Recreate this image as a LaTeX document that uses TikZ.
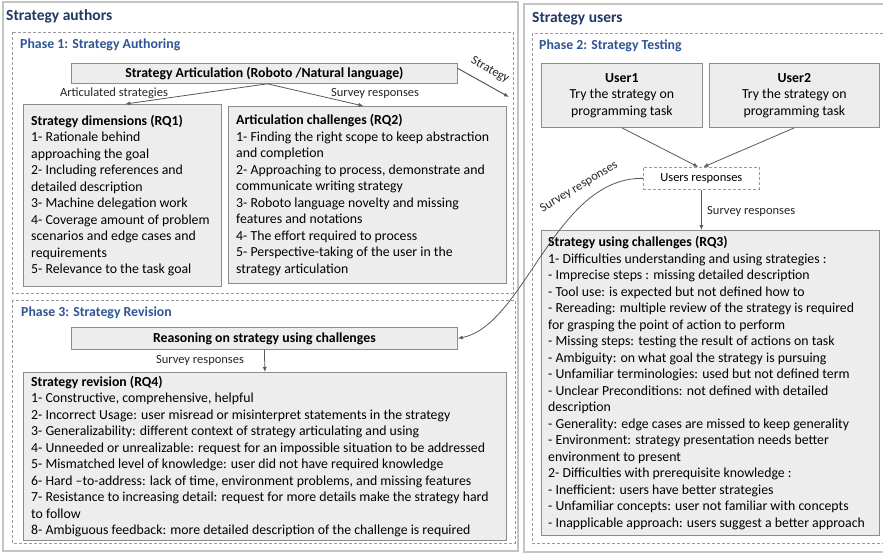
\documentclass[tikz,border=0pt]{standalone}
\usepackage{fontspec}
\setmainfont{Carlito}
\usetikzlibrary{arrows.meta,calc}
\definecolor{navy}{HTML}{1F3864}
\definecolor{phaseblue}{HTML}{2F5597}
\definecolor{boxfill}{HTML}{EDEDED}
\definecolor{boxdraw}{HTML}{8C8C8C}
\definecolor{outerdraw}{HTML}{C4C4C4}
\definecolor{dashdraw}{HTML}{9A9A9A}
\definecolor{arrowc}{HTML}{595959}
\begin{document}
\begin{tikzpicture}[x=1pt,y=-1pt,
  outerbox/.style={draw=outerdraw, line width=1.8pt},
  phasebox/.style={draw=dashdraw, dash pattern=on 3pt off 2pt, line width=0.7pt},
  gbox/.style={draw=boxdraw, fill=boxfill, line width=0.8pt, anchor=north west, inner sep=0pt,
    font=\fontsize{13.8}{16.5}\selectfont, align=center},
  btext/.style={anchor=west, inner sep=0pt, align=left, font=\fontsize{13.8}{16.5}\selectfont},
  lbl/.style={inner sep=0pt, font=\fontsize{12.5}{15}\selectfont, text=black!85},
  bigtitle/.style={anchor=west, inner sep=0pt, font=\fontsize{15.5}{18}\selectfont\bfseries, text=navy},
  phasetitle/.style={anchor=west, inner sep=0pt, font=\fontsize{13.8}{16.5}\selectfont\bfseries, text=phaseblue},
  arr/.style={draw=arrowc, line width=0.8pt, -{Latex[length=5pt,width=4pt]}}
]
\path[use as bounding box, clip] (0,0) rectangle (883,554);
\fill[white] (0,0) rectangle (883,554);

% outer frames
\draw[outerbox] (3,2) rectangle (518,551);
\draw[outerbox] (524,4) rectangle (895,552);
\draw[phasebox] (12,32) rectangle (513,293);
\draw[phasebox] (12,300) rectangle (515,543);
\draw[phasebox] (532,33) rectangle (895,543);

% titles
\node[bigtitle] (tauthors) at (6,16) {Strategy authors};
\node[bigtitle] (tusers) at (532,19) {Strategy users};
\node[phasetitle] (tp1) at (20,45) {Phase 1: Strategy Authoring};
\node[phasetitle] (tp2) at (539,46) {Phase 2: Strategy Testing};
\node[phasetitle] (tp3) at (21,313) {Phase 3: Strategy Revision};

% phase 1
\node[gbox, minimum width=386pt, minimum height=20pt] (art) at (71,63)
  {\textbf{Strategy Articulation (Roboto /Natural language)}};
\node[gbox, minimum width=198pt, minimum height=182pt] (rq1) at (23,104) {};
\node[btext] (rq1t) at ($(rq1.west)+(8,0)$) {\textbf{Strategy dimensions (RQ1)}\\
1- Rationale behind\\
approaching the goal\\
2- Including references and\\
detailed description\\
3- Machine delegation work\\
4- Coverage amount of problem\\
scenarios and edge cases and\\
requirements\\
5- Relevance to the task goal};
\node[gbox, minimum width=278pt, minimum height=177pt] (rq2) at (228,106) {};
\node[btext] (rq2t) at ($(rq2.west)+(8,0)$) {\textbf{Articulation challenges (RQ2)}\\
1- Finding the right scope to keep abstraction\\
and completion\\
2- Approaching to process, demonstrate and\\
communicate writing strategy\\
3- Roboto language novelty and missing\\
features and notations\\
4- The effort required to process\\
5- Perspective-taking of the user in the\\
strategy articulation};

\draw[arr] ($(art.south)+(3,0)$) -- ($(rq1.north)+(3,0)$);
\draw[arr] ($(art.south)+(3,0)$) -- ($(rq2.north)+(-4,0)$);
\node[lbl] (lart) at (114,93) {Articulated strategies};
\node[lbl] (lsr1) at (375,93) {Survey responses};

\coordinate (stratend) at (509,97);
\draw[arr, line width=1pt] ($(art.east)+(0,-5)$) -- (stratend);
\node[lbl, rotate=-29] (lstrat) at (490,70) {Strategy};

% phase 3
\node[gbox, minimum width=386pt, minimum height=22pt] (reason) at (71,327)
  {\textbf{Reasoning on strategy using challenges}};
\node[gbox, minimum width=483pt, minimum height=168pt] (rq4) at (23,372) {};
\node[btext] (rq4t) at ($(rq4.west)+(8,0)$) {\textbf{Strategy revision (RQ4)}\\
1- Constructive, comprehensive, helpful\\
2- Incorrect Usage: user misread or misinterpret statements in the strategy\\
3- Generalizability: different context of strategy articulating and using\\
4- Unneeded or unrealizable: request for an impossible situation to be addressed\\
5- Mismatched level of knowledge: user did not have required knowledge\\
6- Hard –to-address: lack of time, environment problems, and missing features\\
7- Resistance to increasing detail: request for more details make the strategy hard\\
to follow\\
8- Ambiguous feedback: more detailed description of the challenge is required};
\draw[arr] (reason.south) -- (rq4.north);
\node[lbl] (lsr3) at (200,360) {Survey responses};

% phase 2
\node[gbox, minimum width=161pt, minimum height=64pt] (user1) at (541,63)
  {\textbf{User1}\\Try the strategy on\\programming task};
\node[gbox, minimum width=170pt, minimum height=64pt] (user2) at (709,63)
  {\textbf{User2}\\Try the strategy on\\programming task};
\node[gbox, fill=white, draw=dashdraw, dash pattern=on 3pt off 2pt, line width=0.7pt,
  minimum width=116pt, minimum height=22pt, font=\fontsize{12.5}{15}\selectfont] (ur) at (643,167)
  {Users responses};
\draw[arr] (user1.south) -- ($(ur.north)+(-3,0)$);
\draw[arr] (user2.south) -- ($(ur.north)+(2,0)$);

\node[gbox, minimum width=338pt, minimum height=305pt] (rq3) at (541,230) {};
\node[btext] (rq3t) at ($(rq3.west)+(7,0)$) {\textbf{Strategy using challenges (RQ3)}\\
1- Difficulties understanding and using strategies :\\
- Imprecise steps : missing detailed description\\
- Tool use: is expected but not defined how to\\
- Rereading: multiple review of the strategy is required\\
for grasping the point of action to perform\\
- Missing steps: testing the result of actions on task\\
- Ambiguity: on what goal the strategy is pursuing\\
- Unfamiliar terminologies: used but not defined term\\
- Unclear Preconditions: not defined with detailed\\
description\\
- Generality: edge cases are missed to keep generality\\
- Environment: strategy presentation needs better\\
environment to present\\
2- Difficulties with prerequisite knowledge :\\
- Inefficient: users have better strategies\\
- Unfamiliar concepts: user not familiar with concepts\\
- Inapplicable approach: users suggest a better approach};
\draw[arr] (ur.south) -- (ur.south |- rq3.north);
\node[lbl, anchor=west] (lsr2) at (707,211) {Survey responses};

% curved connector to phase 3
\draw[arr] (ur.west) .. controls (555,177) and (525,325) .. (reason.east);
\node[lbl, rotate=31] (lsr4) at (579,187) {Survey responses};
\end{tikzpicture}
\end{document}
